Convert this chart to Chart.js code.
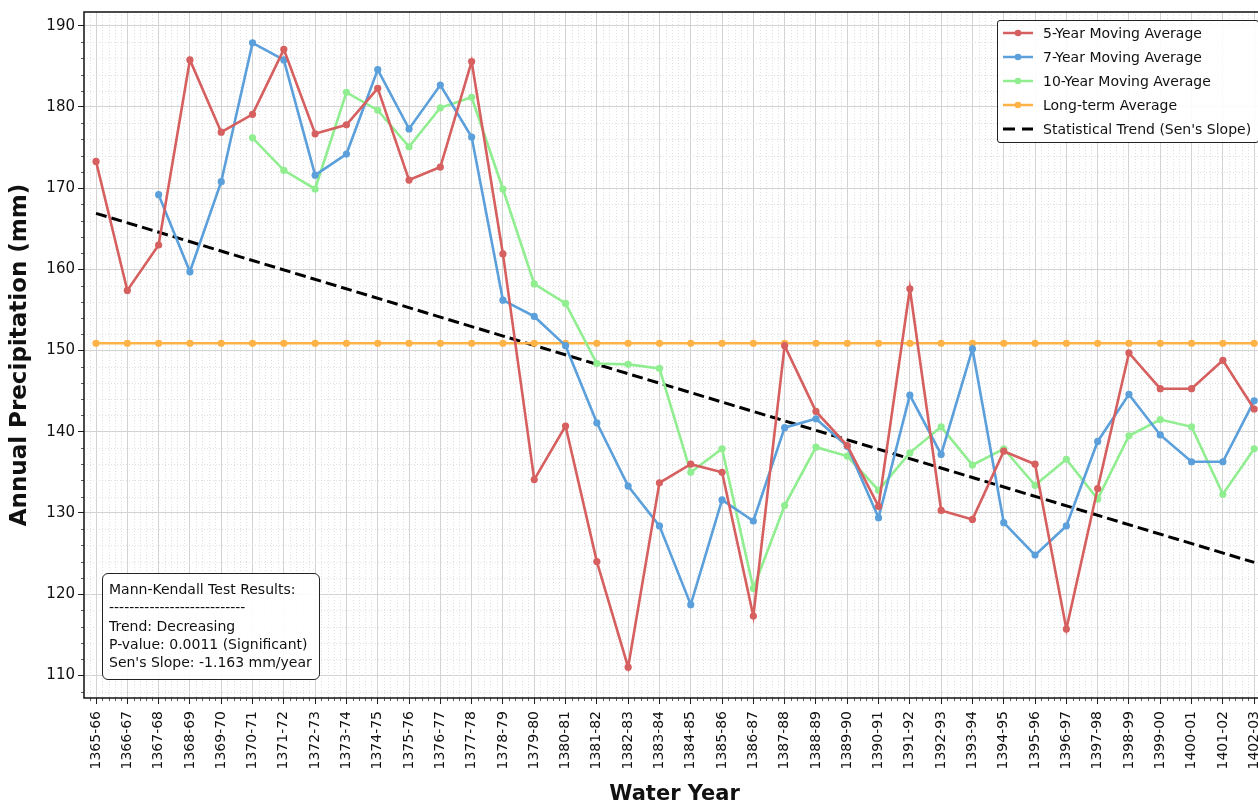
<!DOCTYPE html>
<html>
<head>
<meta charset="utf-8">
<title>Annual Precipitation Moving Averages</title>
<script src="https://cdn.jsdelivr.net/npm/chart.js@4.4.1/dist/chart.umd.min.js"></script>
<style>
  html, body { margin: 0; padding: 0; background: #fff; overflow: hidden; }
  #wrap { position: relative; width: 1278px; height: 807px; }
  .legend {
    position: absolute; left: 997px; top: 20px; width: 262px; height: 123px;
    box-sizing: border-box; border: 1px solid #222; border-radius: 3px;
    background: rgba(255, 255, 255, 0.9);
    font: 14px "DejaVu Sans", sans-serif; color: #111;
  }
  .legend .row { height: 24px; display: flex; align-items: center; white-space: nowrap; }
  .legend svg { margin-left: 5px; margin-right: 10px; flex: none; }
  .stats {
    position: absolute; left: 102px; top: 573px; width: 218px; height: 107px;
    box-sizing: border-box; border: 1px solid #222; border-radius: 6px;
    background: rgba(255, 255, 255, 0.9);
    padding: 6px 0 0 6px;
    font: 14px "DejaVu Sans", sans-serif; line-height: 18.3px; color: #111;
    white-space: pre;
  }
</style>
</head>
<body>
<div id="wrap">
  <canvas id="chart"></canvas>
  <div class="legend" id="legend"></div>
  <div class="stats" id="stats"></div>
</div>
<script>
// Water years (x axis)
const years = [
  "1365-66", "1366-67", "1367-68", "1368-69", "1369-70", "1370-71", "1371-72",
  "1372-73", "1373-74", "1374-75", "1375-76", "1376-77", "1377-78", "1378-79",
  "1379-80", "1380-81", "1381-82", "1382-83", "1383-84", "1384-85", "1385-86",
  "1386-87", "1387-88", "1388-89", "1389-90", "1390-91", "1391-92", "1392-93",
  "1393-94", "1394-95", "1395-96", "1396-97", "1397-98", "1398-99", "1399-00",
  "1400-01", "1401-02", "1402-03",
];

// 5-year moving average (mm)
const ma5 = [
  173.3, 157.4, 163.0, 185.8, 176.9, 179.1, 187.1, 176.7, 177.8, 182.3,
  171.0, 172.6, 185.6, 161.9, 134.1, 140.7, 124.0, 111.0, 133.7, 136.0,
  135.0, 117.3, 150.6, 142.5, 138.3, 130.8, 157.6, 130.3, 129.2, 137.6,
  136.0, 115.7, 133.0, 149.7, 145.3, 145.3, 148.8, 142.8,
];

// 7-year moving average (mm)
const ma7 = [
  null, null, 169.2, 159.7, 170.8, 187.9, 185.8, 171.6, 174.2, 184.6,
  177.3, 182.7, 176.3, 156.2, 154.2, 150.6, 141.1, 133.3, 128.4, 118.7,
  131.6, 129.0, 140.5, 141.6, 138.2, 129.4, 144.5, 137.2, 150.2, 128.8,
  124.8, 128.4, 138.8, 144.6, 139.6, 136.3, 136.3, 143.8,
];

// 10-year moving average (mm)
const ma10 = [
  null, null, null, null, null, 176.2, 172.2, 169.9, 181.8, 179.6,
  175.1, 179.9, 181.2, 169.9, 158.2, 155.8, 148.4, 148.3, 147.8, 135.0,
  137.9, 120.7, 130.9, 138.1, 137.0, 132.8, 137.4, 140.6, 135.9, 137.9,
  133.4, 136.6, 131.7, 139.5, 141.5, 140.6, 132.3, 137.9,
];

// long-term average (mm)
const longTerm = [
  150.9, 150.9, 150.9, 150.9, 150.9, 150.9, 150.9, 150.9, 150.9, 150.9,
  150.9, 150.9, 150.9, 150.9, 150.9, 150.9, 150.9, 150.9, 150.9, 150.9,
  150.9, 150.9, 150.9, 150.9, 150.9, 150.9, 150.9, 150.9, 150.9, 150.9,
  150.9, 150.9, 150.9, 150.9, 150.9, 150.9, 150.9, 150.9,
];

// Sen's slope trend line, end points
const trendYears = ["1365-66", "1402-03"];
const trendValues = [166.9, 123.9];

const yTicks = [110, 120, 130, 140, 150, 160, 170, 180, 190];

const statsLines = [
  "Mann-Kendall Test Results:",
  "---------------------------",
  "Trend: Decreasing",
  "P-value: 0.0011 (Significant)",
  "Sen's Slope: -1.163 mm/year",
];

const series = [
  { label: "5-Year Moving Average", values: ma5, color: "#d65f5f" },
  { label: "7-Year Moving Average", values: ma7, color: "#5b9fdb" },
  { label: "10-Year Moving Average", values: ma10, color: "#90ee90" },
  { label: "Long-term Average", values: longTerm, color: "#ffb347" },
];

const FONT = "'DejaVu Sans', sans-serif";

const datasets = series.map((s) => ({
  label: s.label,
  data: years.map((_, i) => ({ x: i, y: s.values[i] })),
  borderColor: s.color,
  backgroundColor: s.color,
  borderWidth: 2.6,
  pointRadius: 3.6,
  pointBorderWidth: 0,
  pointBackgroundColor: s.color,
  tension: 0,
}));

datasets.push({
  label: "Statistical Trend (Sen's Slope)",
  data: trendYears.map((yr, i) => ({ x: years.indexOf(yr), y: trendValues[i] })),
  borderColor: "#000",
  borderWidth: 3,
  borderDash: [11, 5],
  pointRadius: 0,
  tension: 0,
});

// dotted minor grid, minor ticks and the full plot frame
const minorGrid = {
  id: "minorGrid",
  beforeDatasetsDraw(chart) {
    const { ctx, chartArea: a, scales } = chart;
    ctx.save();
    ctx.strokeStyle = "#d8d8d8";
    ctx.lineWidth = 0.8;
    ctx.setLineDash([1, 2]);
    ctx.beginPath();
    for (let v = 106; v <= 192; v += 2) {
      if (v % 10 === 0) continue;
      const py = Math.round(scales.y.getPixelForValue(v)) + 0.5;
      if (py < a.top || py > a.bottom) continue;
      ctx.moveTo(a.left, py);
      ctx.lineTo(a.right, py);
    }
    for (let k = -5; k <= years.length * 5 + 5; k++) {
      if (k % 5 === 0) continue;
      const px = Math.round(scales.x.getPixelForValue(k / 5)) + 0.5;
      if (px < a.left || px > a.right) continue;
      ctx.moveTo(px, a.top);
      ctx.lineTo(px, a.bottom);
    }
    ctx.stroke();
    ctx.restore();
  },
  afterDraw(chart) {
    const { ctx, chartArea: a, scales } = chart;
    ctx.save();
    ctx.strokeStyle = "#333";
    ctx.lineWidth = 0.8;
    ctx.beginPath();
    for (let v = 106; v <= 192; v += 2) {
      if (v % 10 === 0) continue;
      const py = Math.round(scales.y.getPixelForValue(v)) + 0.5;
      if (py < a.top || py > a.bottom) continue;
      ctx.moveTo(a.left - 3, py);
      ctx.lineTo(a.left, py);
    }
    for (let k = -5; k <= years.length * 5 + 5; k++) {
      if (k % 5 === 0) continue;
      const px = Math.round(scales.x.getPixelForValue(k / 5)) + 0.5;
      if (px < a.left || px > a.right) continue;
      ctx.moveTo(px, a.bottom);
      ctx.lineTo(px, a.bottom + 3);
    }
    ctx.stroke();
    ctx.strokeStyle = "#111";
    ctx.lineWidth = 1.5;
    ctx.strokeRect(a.left, a.top, a.right - a.left, a.bottom - a.top);
    ctx.restore();
  },
};

new Chart(document.getElementById("chart"), {
  type: "line",
  data: { datasets },
  options: {
    responsive: true,
    maintainAspectRatio: false,
    animation: false,
    devicePixelRatio: 1,
    layout: { padding: { top: 12, left: 0, right: 0, bottom: 0 } },
    plugins: {
      legend: { display: false },
      tooltip: { enabled: false },
    },
    scales: {
      x: {
        type: "linear",
        min: -0.384,
        max: 37.35,
        afterBuildTicks: (scale) => {
          scale.ticks = years.map((_, i) => ({ value: i }));
        },
        afterFit: (scale) => {
          scale.height = 109;
        },
        ticks: {
          autoSkip: false,
          maxRotation: 90,
          minRotation: 90,
          padding: 7,
          color: "#111",
          font: { family: FONT, size: 14 },
          callback: (v) => years[v],
        },
        grid: {
          color: "#d3d3d3",
          lineWidth: 1,
          tickLength: 6,
          tickColor: "#222",
          tickWidth: 1,
        },
        border: { display: false },
        title: {
          display: true,
          text: "Water Year",
          color: "#111",
          font: { family: FONT, size: 21, weight: "bold" },
          padding: { top: 4, bottom: 0 },
        },
      },
      y: {
        min: 107.2,
        max: 191.7,
        afterBuildTicks: (scale) => {
          scale.ticks = yTicks.map((v) => ({ value: v }));
        },
        afterFit: (scale) => {
          scale.width = 84;
        },
        ticks: {
          padding: 3,
          color: "#111",
          font: { family: FONT, size: 15 },
        },
        grid: {
          color: "#d3d3d3",
          lineWidth: 1,
          tickLength: 6,
          tickColor: "#222",
          tickWidth: 1,
        },
        border: { display: false },
        title: {
          display: true,
          text: "Annual Precipitation (mm)",
          color: "#111",
          font: { family: FONT, size: 23, weight: "bold" },
          padding: { top: 6, bottom: 0 },
        },
      },
    },
  },
  plugins: [minorGrid],
});

// legend box (top right)
const legendEl = document.getElementById("legend");
datasets.forEach((ds) => {
  const row = document.createElement("div");
  row.className = "row";
  let swatch;
  if (ds.borderDash) {
    swatch =
      '<svg width="30" height="10"><line x1="0" y1="5" x2="12" y2="5" stroke="#000" stroke-width="3"/>' +
      '<line x1="19" y1="5" x2="30" y2="5" stroke="#000" stroke-width="3"/></svg>';
  } else {
    swatch =
      '<svg width="30" height="10"><line x1="0" y1="5" x2="30" y2="5" stroke="' + ds.borderColor +
      '" stroke-width="2.5"/><circle cx="15" cy="5" r="3.3" fill="' + ds.borderColor + '"/></svg>';
  }
  row.innerHTML = swatch;
  const label = document.createElement("span");
  label.textContent = ds.label;
  row.appendChild(label);
  legendEl.appendChild(row);
});

// Mann-Kendall text box
document.getElementById("stats").textContent = statsLines.join("\n");
</script>
</body>
</html>
